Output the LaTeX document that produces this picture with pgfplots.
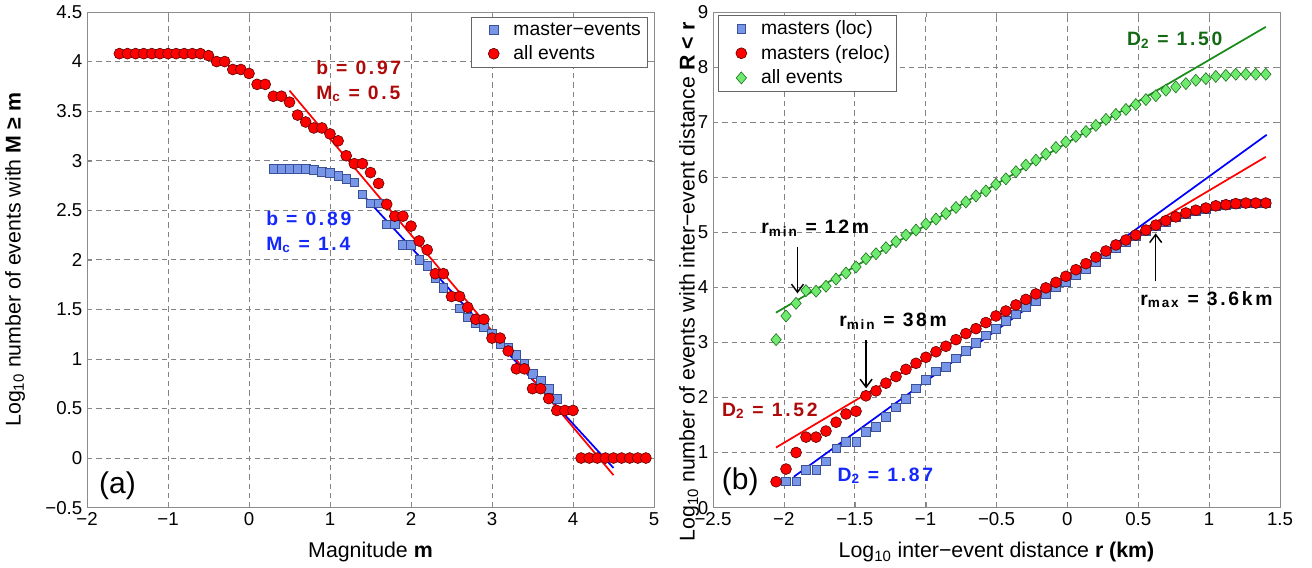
\documentclass[border=0pt]{standalone}
\usepackage{fontspec}
\setmainfont{Liberation Sans}
\newfontfamily\annfont[LetterSpace=14]{Liberation Sans}
\usepackage{pgfplots}
\pgfplotsset{compat=1.18}
\usetikzlibrary{arrows.meta}

\definecolor{sqfill}{RGB}{120,150,232}
\definecolor{sqedge}{RGB}{60,80,150}
\definecolor{cfill}{RGB}{255,0,0}
\definecolor{cedge}{RGB}{90,0,0}
\definecolor{dfill}{RGB}{110,235,110}
\definecolor{dedge}{RGB}{30,110,30}
\definecolor{gline}{RGB}{25,140,25}
\definecolor{gtext}{RGB}{20,105,20}
\definecolor{rtext}{RGB}{175,10,10}
\definecolor{btext}{RGB}{20,40,250}
\definecolor{axgray}{RGB}{140,140,140}
\definecolor{gridgray}{RGB}{130,130,130}

\newcommand{\tickfont}{\fontsize{14}{16}\selectfont}
\newcommand{\labfont}{\fontsize{16}{19}\selectfont}
\newcommand{\legfont}{\fontsize{14.5}{17}\selectfont}
\newcommand{\annsize}{\annfont\bfseries\fontsize{14.5}{17}\selectfont}

\pgfplotsset{
  mystyle/.style={
    scale only axis, width=425.25pt, height=371.7pt,
    anchor=south west,
    axis line style={axgray},
    grid=major,
    major grid style={dash pattern=on 4pt off 3pt, gridgray, line width=0.5pt},
    tick align=inside,
    major tick length=4pt,
    tick style={axgray},
    ticklabel style={font=\tickfont},
    label style={font=\labfont},
    xlabel style={at={(axis description cs:0.5,-0.09)}, anchor=center},
    legend style={font=\legfont, draw=black!60, fill=white, inner xsep=3pt, inner ysep=2pt, row sep=2.5pt},
    legend cell align=left,
    legend image code/.code={\path[draw=none, fill=none] (0cm,0cm) -- (0.95cm,0cm); \draw[##1, draw=none] plot coordinates {(0.5cm,0cm)};},
  },
  sq/.style={only marks, mark=square*, mark size=3.2pt, mark options={fill=sqfill, draw=sqedge, line width=0.4pt}},
  ci/.style={only marks, mark=*, mark size=4.1pt, mark options={fill=cfill, draw=cedge, line width=0.45pt}},
  di/.style={only marks, mark=diamond*, mark size=4.5pt, mark options={fill=dfill, draw=dedge, line width=0.45pt, xscale=1.15}},
}

\begin{document}
\begin{tikzpicture}
\useasboundingbox (0,0) rectangle (984pt,425.25pt);

% ---------------- panel (a) ----------------
\begin{axis}[mystyle, at={(65.25pt,44.55pt)},
  xmin=-2, xmax=5, ymin=-0.5, ymax=4.5,
  xtick={-2,-1,0,1,2,3,4,5},
  xticklabels={−2,−1,0,1,2,3,4,5},
  ytick={-0.5,0,0.5,1,1.5,2,2.5,3,3.5,4,4.5},
  yticklabels={−0.5,0,0.5,1,1.5,2,2.5,3,3.5,4,4.5},
  xlabel={Magnitude \textbf{m}},
  ylabel={Log\textsubscript{10} number of events with \textbf{M ≥ m}},
  ylabel style={at={(axis description cs:-0.127,0.5)}, anchor=center},
  legend style={at={(0.989,0.99)}, anchor=north east},
]
\addplot[sq] table {
x y
0.3 2.92
0.4 2.92
0.5 2.92
0.6 2.92
0.7 2.92
0.8 2.91
0.9 2.89
1.0 2.88
1.1 2.85
1.2 2.82
1.3 2.78
1.4 2.66
1.5 2.57
1.6 2.57
1.7 2.36
1.8 2.36
1.9 2.15
2.0 2.15
2.1 2.00
2.2 1.94
2.3 1.82
2.4 1.72
2.5 1.63
2.6 1.51
2.7 1.42
2.8 1.36
2.9 1.32
3.0 1.26
3.1 1.15
3.2 1.11
3.3 1.04
3.4 0.95
3.5 0.85
3.6 0.78
3.7 0.70
3.8 0.60
};
\addlegendentry{master−events}
\addplot[ci] table {
x y
-1.6 4.08
-1.5 4.08
-1.4 4.08
-1.3 4.08
-1.2 4.08
-1.1 4.08
-1.0 4.08
-0.9 4.08
-0.8 4.08
-0.7 4.08
-0.6 4.08
-0.5 4.06
-0.4 4.00
-0.3 4.00
-0.2 3.92
-0.1 3.92
0.0 3.88
0.1 3.77
0.2 3.77
0.3 3.65
0.4 3.65
0.5 3.59
0.6 3.46
0.7 3.39
0.8 3.33
0.9 3.33
1.0 3.27
1.1 3.20
1.2 3.05
1.3 2.97
1.4 2.97
1.5 2.88
1.6 2.77
1.7 2.56
1.8 2.44
1.9 2.44
2.0 2.34
2.1 2.19
2.2 2.10
2.3 1.86
2.4 1.86
2.5 1.63
2.6 1.63
2.7 1.52
2.8 1.40
2.9 1.40
3.0 1.21
3.1 1.21
3.2 1.08
3.3 0.90
3.4 0.90
3.5 0.70
3.6 0.70
3.7 0.60
3.8 0.48
3.9 0.48
4.0 0.48
4.1 0
4.2 0
4.3 0
4.4 0
4.5 0
4.6 0
4.7 0
4.8 0
4.9 0
};
\addlegendentry{all events}
\addplot[blue, line width=1.3pt, forget plot] coordinates {(1.4,2.66) (4.5,-0.10)};
\addplot[red, line width=1.3pt, forget plot] coordinates {(0.5,3.707) (4.5,-0.173)};

\node[anchor=base west, text=rtext, font=\annsize, inner sep=0pt] at (axis cs:0.827,3.874) {b = 0.97};
\node[anchor=base west, text=rtext, font=\annsize, inner sep=0pt] at (axis cs:0.827,3.622) {M\textsubscript{c} = 0.5};
\node[anchor=base west, text=btext, font=\annsize, inner sep=0pt] at (axis cs:0.21,2.341) {b = 0.89};
\node[anchor=base west, text=btext, font=\annsize, inner sep=0pt] at (axis cs:0.21,2.098) {M\textsubscript{c} = 1.4};
\node[anchor=center, font=\fontsize{22.5}{26}\selectfont, inner sep=0pt] at (axis cs:-1.623,-0.281) {(a)};
\end{axis}

% ---------------- panel (b) ----------------
\begin{axis}[mystyle, at={(534.75pt,44.55pt)},
  xmin=-2.5, xmax=1.5, ymin=0, ymax=9,
  xtick={-2.5,-2,-1.5,-1,-0.5,0,0.5,1,1.5},
  xticklabels={−2.5,−2,−1.5,−1,−0.5,0,0.5,1,1.5},
  ytick={0,1,2,3,4,5,6,7,8,9},
  yticklabels={0,1,2,3,4,5,6,7,8,9},
  xlabel={Log\textsubscript{10} inter−event distance \textbf{r (km)}},
  ylabel={Log\textsubscript{10} number of events with inter−event distance \textbf{R < r}},
  ylabel style={at={(axis description cs:-0.042,0.455)}, anchor=center},
  legend style={at={(0.009,0.994)}, anchor=north west},
]
\addplot[gline, line width=1.3pt, forget plot] coordinates {(-2.056,3.54) (1.40,8.73)};
\addplot[sq] table {
x y
-1.985 0.48
-1.914 0.48
-1.844 0.69
-1.773 0.69
-1.703 0.84
-1.632 1.08
-1.562 1.20
-1.491 1.20
-1.421 1.38
-1.350 1.47
-1.280 1.65
-1.209 1.82
-1.139 1.98
-1.068 2.17
-0.998 2.32
-0.927 2.48
-0.857 2.56
-0.786 2.71
-0.716 2.85
-0.645 2.99
-0.575 3.13
-0.504 3.25
-0.434 3.39
-0.363 3.51
-0.293 3.65
-0.222 3.76
-0.152 3.88
-0.081 4.00
-0.011 4.10
0.060 4.22
0.131 4.34
0.201 4.46
0.272 4.60
0.342 4.72
0.413 4.83
0.483 4.93
0.554 5.02
0.624 5.11
0.695 5.19
0.765 5.27
0.836 5.34
0.906 5.39
0.977 5.43
1.047 5.47
1.118 5.50
1.188 5.52
1.259 5.53
1.329 5.53
1.400 5.53
};
\addlegendentry{masters (loc)}
\addplot[ci] table {
x y
-2.055 0.47
-1.985 0.70
-1.914 1.00
-1.844 1.28
-1.773 1.28
-1.703 1.39
-1.632 1.55
-1.562 1.70
-1.491 1.75
-1.421 2.03
-1.350 2.12
-1.280 2.26
-1.209 2.38
-1.139 2.51
-1.068 2.62
-0.998 2.73
-0.927 2.83
-0.857 2.93
-0.786 3.05
-0.716 3.16
-0.645 3.25
-0.575 3.36
-0.504 3.48
-0.434 3.57
-0.363 3.68
-0.293 3.78
-0.222 3.88
-0.152 3.99
-0.081 4.09
-0.011 4.20
0.060 4.32
0.131 4.43
0.201 4.55
0.272 4.66
0.342 4.77
0.413 4.86
0.483 4.95
0.554 5.04
0.624 5.13
0.695 5.21
0.765 5.28
0.836 5.35
0.906 5.40
0.977 5.44
1.047 5.48
1.118 5.50
1.188 5.52
1.259 5.53
1.329 5.53
1.400 5.53
};
\addlegendentry{masters (reloc)}
\addplot[di] table {
x y
-2.055 3.05
-1.985 3.48
-1.914 3.71
-1.844 3.94
-1.773 3.93
-1.703 4.02
-1.632 4.15
-1.562 4.26
-1.491 4.37
-1.421 4.52
-1.350 4.61
-1.280 4.72
-1.209 4.83
-1.139 4.95
-1.068 5.04
-0.998 5.15
-0.927 5.24
-0.857 5.34
-0.786 5.45
-0.716 5.55
-0.645 5.66
-0.575 5.75
-0.504 5.87
-0.434 5.97
-0.363 6.10
-0.293 6.22
-0.222 6.31
-0.152 6.42
-0.081 6.54
-0.011 6.64
0.060 6.74
0.131 6.83
0.201 6.94
0.272 7.05
0.342 7.14
0.413 7.23
0.483 7.32
0.554 7.41
0.624 7.48
0.695 7.58
0.765 7.64
0.836 7.70
0.906 7.76
0.977 7.79
1.047 7.83
1.118 7.85
1.188 7.87
1.259 7.87
1.329 7.87
1.400 7.87
};
\addlegendentry{all events}
\addplot[red, line width=1.3pt, forget plot] coordinates {(-2.056,1.09) (1.40,6.37)};
\addplot[blue, line width=1.3pt, forget plot] coordinates {(-1.93,0.56) (1.406,6.77)};

\node[anchor=base west, text=gtext, font=\annsize, inner sep=0pt] at (axis cs:0.419,8.396) {D\textsubscript{2} = 1.50};
\node[anchor=base west, text=rtext, font=\annsize, inner sep=0pt] at (axis cs:-2.437,1.662) {D\textsubscript{2} = 1.52};
\node[anchor=base west, text=btext, font=\annsize, inner sep=0pt] at (axis cs:-1.622,0.483) {D\textsubscript{2} = 1.87};
\node[anchor=base west, font=\annsize, inner sep=0pt] at (axis cs:-2.160,4.98) {r\textsubscript{min} = 12m};
\node[anchor=base west, font=\annsize, inner sep=0pt] at (axis cs:-1.611,3.296) {r\textsubscript{min} = 38m};
\node[anchor=base west, font=\annsize, inner sep=0pt] at (axis cs:0.513,3.677) {r\textsubscript{max} = 3.6km};
\draw[-{Straight Barb[length=6pt,width=9pt]}, line width=1.1pt] (axis cs:-1.904,4.735) -- (axis cs:-1.904,3.89);
\draw[-{Straight Barb[length=6pt,width=9pt]}, line width=1.1pt] (axis cs:-1.42,3.04) -- (axis cs:-1.42,2.165);
\draw[-{Straight Barb[length=6pt,width=9pt]}, line width=1.1pt] (axis cs:0.623,4.11) -- (axis cs:0.623,4.98);
\node[anchor=center, font=\fontsize{22.5}{26}\selectfont, inner sep=0pt] at (axis cs:-2.308,0.47) {(b)};
\end{axis}
\end{tikzpicture}
\end{document}
